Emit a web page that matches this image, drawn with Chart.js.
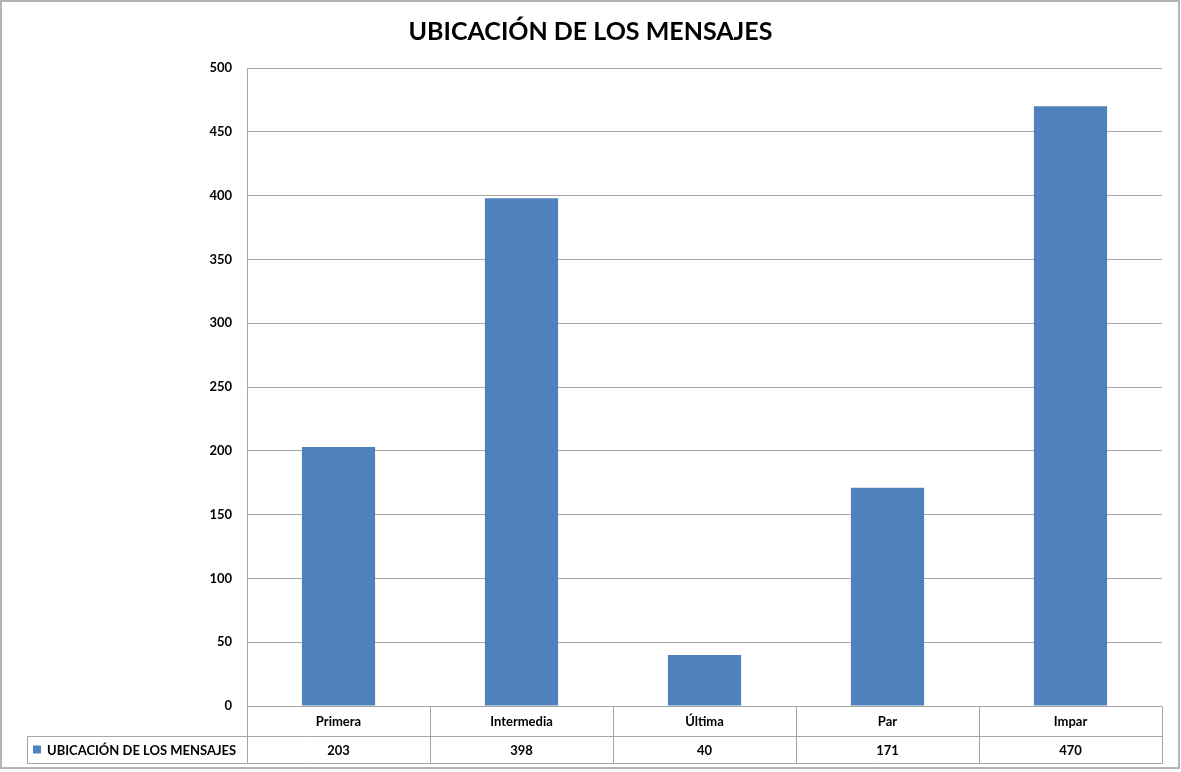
<!DOCTYPE html>
<html>
<head>
<meta charset="utf-8">
<script src="https://cdn.jsdelivr.net/npm/chart.js@4"></script>
<style>
  html, body { margin: 0; padding: 0; background: #ffffff; }
  #wrap { width: 1181px; height: 772px; }
</style>
</head>
<body>
<div id="wrap"><canvas id="c" width="1181" height="772"></canvas></div>
<script>
const chartTitle = 'UBICACIÓN DE LOS MENSAJES';
const seriesName = 'UBICACIÓN DE LOS MENSAJES';
const categories = ['Primera', 'Intermedia', 'Última', 'Par', 'Impar'];
const values = [203, 398, 40, 171, 470];
const yMin = 0, yMax = 500, yStep = 50;

const FONT = 'Lato, "Open Sans", "Liberation Sans", sans-serif';
const GRID = '#a6a6a6';
const BAR = '#4f81bd';

const frameAndTable = {
  id: 'frameAndTable',
  beforeDraw(chart) {
    const ctx = chart.ctx;
    ctx.save();
    ctx.fillStyle = '#ffffff';
    ctx.fillRect(0, 0, chart.width, chart.height);
    ctx.restore();
  },
  afterDraw(chart) {
    const ctx = chart.ctx;
    const area = chart.chartArea;
    const xs = chart.scales.x;
    const n = categories.length;
    const colW = (area.right - area.left) / n;
    const r1Top = area.bottom;
    const r1Bot = area.bottom + 30;
    const r2Bot = area.bottom + 57;
    const legLeft = 27;

    ctx.save();
    ctx.strokeStyle = GRID;
    ctx.lineWidth = 1;
    const line = (x1, y1, x2, y2) => {
      ctx.beginPath();
      ctx.moveTo(Math.round(x1) + 0.5, Math.round(y1) + 0.5);
      ctx.lineTo(Math.round(x2) + 0.5, Math.round(y2) + 0.5);
      ctx.stroke();
    };
    line(legLeft, r1Bot, area.right, r1Bot);
    line(legLeft, r2Bot, area.right, r2Bot);
    for (let i = 0; i <= n; i++) {
      const bx = xs.getPixelForValue(Math.min(i, n - 1)) + (i === n ? colW / 2 : -colW / 2);
      line(bx, r1Top, bx, r2Bot);
    }
    line(legLeft, r1Bot, legLeft, r2Bot);

    ctx.fillStyle = '#000000';
    ctx.textAlign = 'center';
    ctx.textBaseline = 'middle';
    ctx.font = 'bold 13px ' + FONT;
    categories.forEach((c, i) => {
      const cx = xs.getPixelForValue(i);
      ctx.fillText(c, cx, (r1Top + r1Bot) / 2 + 1);
      ctx.fillText(String(values[i]), cx, (r1Bot + r2Bot) / 2 + 1);
    });

    ctx.fillStyle = BAR;
    ctx.fillRect(33, (r1Bot + r2Bot) / 2 - 4, 8, 8);
    ctx.fillStyle = '#000000';
    ctx.textAlign = 'left';
    ctx.font = 'bold 13px ' + FONT;
    ctx.fillText(chart.data.datasets[0].label, 47, (r1Bot + r2Bot) / 2 + 1, 194);

    ctx.strokeStyle = '#b4b4b4';
    ctx.lineWidth = 2;
    ctx.strokeRect(1, 1, chart.width - 3, chart.height - 5);
    ctx.restore();
  }
};

new Chart(document.getElementById('c'), {
  type: 'bar',
  data: {
    labels: categories,
    datasets: [{
      label: seriesName,
      data: values,
      backgroundColor: BAR,
      borderWidth: 0,
      barPercentage: 0.4,
      categoryPercentage: 1.0
    }]
  },
  options: {
    responsive: false,
    animation: false,
    devicePixelRatio: 1,
    layout: { padding: { left: 19, right: 19, top: 0, bottom: 66 } },
    plugins: {
      legend: { display: false },
      tooltip: { enabled: false },
      title: {
        display: true,
        text: chartTitle,
        color: '#000000',
        font: { family: FONT, size: 25, weight: 'bold', lineHeight: 1.2 },
        padding: { top: 17, bottom: 21 }
      }
    },
    scales: {
      x: {
        display: false,
        grid: { display: false }
      },
      y: {
        min: yMin,
        max: yMax,
        afterFit(scale) { scale.width = 228; },
        ticks: {
          stepSize: yStep,
          padding: 15,
          color: '#000000',
          font: { family: FONT, size: 13, weight: 'bold' }
        },
        grid: { color: GRID, drawTicks: false, lineWidth: 1 },
        border: { display: true, color: GRID, width: 1 }
      }
    }
  },
  plugins: [frameAndTable]
});
</script>
</body>
</html>
